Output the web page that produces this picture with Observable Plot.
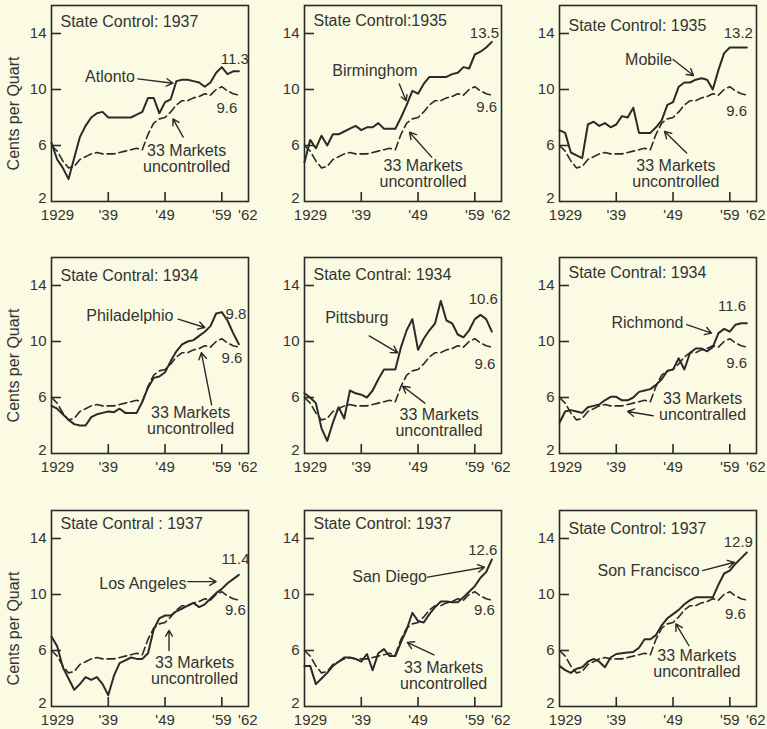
<!DOCTYPE html>
<html><head><meta charset="utf-8">
<script src="https://cdn.jsdelivr.net/npm/d3@7"></script>
<script src="https://cdn.jsdelivr.net/npm/@observablehq/plot@0.6"></script>
<style>
html,body{margin:0;padding:0;background:#fbfbe3;overflow:hidden;}
#chart{position:relative;width:767px;height:729px;background:#fbfbe3;overflow:hidden;}
#chart svg{position:absolute;}
</style></head><body><div id="chart"></div>
<script>
const ink = "#2a2a2a";
const textInk = "#333333";
const years = [1929,1930,1931,1932,1933,1934,1935,1936,1937,1938,1939,1940,1941,1942,1943,1944,1945,1946,1947,1948,1949,1950,1951,1952,1953,1954,1955,1956,1957,1958,1959,1960,1961,1962];
const xTicks = [1929, 1939, 1949, 1959, 1962];
const xTickLabels = ["1929", "'39", "'49", "'59", "'62"];
const yTicks = [2, 6, 10, 14];

// 33 markets uncontrolled (dashed)
const markets33 = [6.0,5.6,4.9,4.4,4.5,5.0,5.2,5.4,5.5,5.4,5.4,5.4,5.5,5.6,5.7,5.8,5.7,6.8,7.6,7.9,8.0,8.4,8.9,9.2,9.2,9.4,9.5,9.7,9.6,10.0,10.2,9.9,9.7,9.6];
// State-controlled cities (solid)
const atlanta = [6.2,5.0,4.4,3.6,5.1,6.6,7.4,8.0,8.3,8.4,8.0,8.0,8.0,8.0,8.0,8.2,8.4,9.4,9.4,8.3,9.1,9.3,10.6,10.7,10.7,10.6,10.5,10.2,10.5,11.2,11.6,11.1,11.3,11.3];
const birmingham = [4.8,6.4,5.8,6.7,6.0,6.8,6.8,7.0,7.2,7.4,7.1,7.3,7.3,7.6,7.2,7.2,7.2,8.0,8.9,9.9,9.7,10.4,10.9,10.9,10.9,10.9,11.1,11.2,11.6,11.5,12.5,12.7,13.0,13.4];
const mobile = [7.1,6.9,5.5,5.3,5.1,7.5,7.7,7.4,7.6,7.3,7.5,8.1,8.0,8.7,6.9,6.9,6.9,7.3,7.8,8.9,9.1,10.2,10.5,10.5,10.7,10.8,10.7,10.0,11.4,12.6,13.0,13.0,13.0,13.0];
const philadelphia = [5.4,5.2,4.8,4.4,4.1,4.0,4.0,4.6,4.8,4.9,5.0,4.95,5.2,4.9,4.9,4.9,5.7,6.7,7.4,7.5,7.8,8.6,9.3,9.8,10.0,10.1,10.4,10.7,11.1,12.0,12.1,11.5,10.6,9.8];
const pittsburgh = [6.3,6.0,5.6,3.8,2.9,4.2,5.3,4.5,6.5,6.3,6.2,6.0,6.5,7.3,8.0,8.0,8.0,9.6,10.8,11.6,9.4,10.2,10.8,11.3,12.9,11.5,11.3,10.5,10.3,10.8,11.6,11.9,11.6,10.7];
const richmond = [4.2,5.0,5.1,5.0,4.9,5.3,5.4,5.5,5.8,6.05,6.05,5.8,5.8,6.0,6.4,6.5,6.6,6.9,7.3,7.9,8.0,8.8,8.0,9.2,9.5,9.5,9.3,9.6,10.6,10.9,10.7,11.2,11.3,11.3];
const losAngeles = [7.0,6.3,4.8,4.0,3.2,3.6,4.1,3.9,4.1,3.6,2.8,4.2,5.1,5.3,5.5,5.4,5.4,5.8,7.5,8.3,8.5,8.5,8.8,9.0,9.2,9.4,9.1,9.3,9.7,10.1,10.4,10.8,11.1,11.4];
const sanDiego = [4.9,4.9,3.6,4.0,4.4,4.9,5.2,5.5,5.5,5.4,5.2,5.75,4.6,5.8,6.1,5.6,5.6,6.6,7.5,8.7,8.1,8.0,8.6,9.1,9.5,9.5,9.45,9.45,9.8,10.2,10.6,11.2,11.6,12.5];
const sanFrancisco = [4.9,4.6,4.4,4.7,4.8,5.2,5.4,5.2,4.8,5.5,5.75,5.8,5.85,5.9,6.2,6.8,6.8,7.1,7.8,8.3,8.6,8.9,9.3,9.6,9.8,9.8,9.8,9.8,10.7,11.5,11.7,12.2,12.6,13.0];

const titles = ["State Control: 1937","State Control:1935","State Control: 1935","State Contral: 1934","State Contral: 1934","State Contral: 1934","State Contral : 1937","State Control: 1937","State Control: 1937"];
const cityNames = ["Atlonto","Birminghom","Mobile","Philadelphio","Pittsburg","Richmond","Los Angeles","San Diego","Son Francisco"];
const cityValues = [atlanta, birmingham, mobile, philadelphia, pittsburgh, richmond, losAngeles, sanDiego, sanFrancisco];
const cityEndLabels = ["11.3","13.5","13.2","9.8","10.6","11.6","11.4","12.6","12.9"];
const marketsEndLabel = "9.6";
const marketsTexts = ["33 Markets\nuncontrolled","33 Markets\nuncontrolled","33 Markets\nuncontrolled","33 Markets\nuncontrolled","33 Markets\nuncontralled","33 Markets\nuncontralled","33 Markets\nuncontrolled","33 Markets\nuncontrolled","33 Markets\nuncontralled"];
const yTitle = "Cents per Quart";

// annotation placement (data coordinates) per panel
const notes = [
  {titleDy:16, city:[1939.3,10.9], cityArrow:[1944.2,10.76,1950.4,10.45], mk:[1952.8,5.07], mkArrow:[1952.2,6.6,1950.4,7.9], end:[1961.3,12.2], base:[1959.9,8.7]},
  {titleDy:15, city:[1941.4,11.36], cityArrow:[1945.7,10.4,1946.9,9.2], mk:[1949.9,3.95], mkArrow:[1951.4,5.17,1947.5,6.95], end:[1960.7,14.0], base:[1961.1,8.74]},
  {titleDy:20, city:[1944.7,12.14], cityArrow:[1949.0,12.14,1952.6,11.0], mk:[1949.5,4.0], mkArrow:[1951.4,5.46,1947.5,7.0], end:[1960.5,14.05], base:[1960.2,8.44]},
  {titleDy:18, city:[1942.8,11.83], cityArrow:[1951.3,11.6,1956.0,11.0], mk:[1953.5,4.3], mkArrow:[1957.2,5.48,1955.4,9.2], end:[1961.5,11.95], base:[1960.8,8.83]},
  {titleDy:17, city:[1938.2,11.7], cityArrow:[1940.4,10.4,1945.4,9.2], mk:[1952.7,4.17], mkArrow:[1950.2,5.6,1946.3,6.8], end:[1960.5,13.0], base:[1960.8,8.36]},
  {titleDy:15, city:[1944.5,11.33], cityArrow:[1951.4,11.2,1955.8,10.6], mk:[1954.2,5.36], mkArrow:[1945.5,4.7,1941.0,5.0], end:[1959.4,12.52], base:[1960.2,8.48]},
  {titleDy:13, city:[1945.1,10.73], cityArrow:[1953.0,10.92,1958.0,10.92], mk:[1954.2,4.57], mkArrow:[1949.7,6.0,1949.7,7.44], end:[1961.4,12.5], base:[1961.4,8.88]},
  {titleDy:13, city:[1944.0,11.24], cityArrow:[1950.7,11.24,1960.7,11.95], mk:[1953.5,4.2], mkArrow:[1951.8,5.68,1947.1,6.58], end:[1960.4,13.15], base:[1960.7,8.85]},
  {titleDy:18, city:[1944.7,11.71], cityArrow:[1954.2,11.71,1959.8,12.3], mk:[1953.2,5.07], mkArrow:[1951.8,6.34,1949.5,7.9], end:[1960.5,13.74], base:[1960.0,8.6]}
];

const colLeft = [6, 259, 514];
const rowTop = [0, 252, 505];
const yTitleDy = [10, 10, 20];
const W = 250, H = 227, ML = 45, MR = 8, MT = 5, MB = 26;
const fw = W - ML - MR, fh = H - MT - MB;
const font = "'Liberation Sans', Arial, sans-serif";
const chart = document.getElementById("chart");

cityValues.forEach((vals, p) => {
  const col = p % 3, row = Math.floor(p / 3);
  const n = notes[p];
  const rows = years.map((yr, i) => ({year: yr, city: vals[i], base: markets33[i]}));
  const lab = d => xTickLabels[xTicks.indexOf(d)];
  const tickStyle = {tickSize: 0, label: null, fontSize: 15, fill: textInk};
  const marks = [
    Plot.frame({stroke: ink, strokeWidth: 1.6}),
    Plot.ruleY(yTicks.slice(1), {y: d => d, insetRight: fw - 10, stroke: ink, strokeWidth: 1.6}),
    Plot.ruleX(xTicks.slice(1, 4), {x: d => d, insetTop: fh - 9, stroke: ink, strokeWidth: 1.6}),
    Plot.axisY(yTicks.slice(0, 1), {...tickStyle, tickPadding: 5, dy: -3}),
    Plot.axisY(yTicks.slice(1), {...tickStyle, tickPadding: 5}),
    Plot.axisX(xTicks.slice(0, 1), {...tickStyle, tickPadding: 8, tickFormat: lab, dx: 6}),
    Plot.axisX(xTicks.slice(1, 4), {...tickStyle, tickPadding: 8, tickFormat: lab}),
    Plot.axisX(xTicks.slice(4), {...tickStyle, tickPadding: 8, tickFormat: lab, dx: 9}),
    Plot.line(rows, {x: "year", y: "base", stroke: ink, strokeWidth: 1.6, strokeDasharray: "8,4"}),
    Plot.line(rows, {x: "year", y: "city", stroke: ink, strokeWidth: 2, strokeLinejoin: "round"}),
    Plot.text([titles[p]], {frameAnchor: "top-left", dx: 9, dy: n.titleDy, textAnchor: "start", lineAnchor: "middle", fontSize: 16, fill: textInk}),
    Plot.text([n], {x: d => d.city[0], y: d => d.city[1], text: () => cityNames[p], fontSize: 16, fill: textInk}),
    Plot.arrow([n], {x1: d => d.cityArrow[0], y1: d => d.cityArrow[1], x2: d => d.cityArrow[2], y2: d => d.cityArrow[3], stroke: ink, strokeWidth: 1.4, headLength: 8}),
    Plot.text([n], {x: d => d.mk[0], y: d => d.mk[1], text: () => marketsTexts[p], fontSize: 16, lineHeight: 1.0, fill: textInk}),
    Plot.arrow([n], {x1: d => d.mkArrow[0], y1: d => d.mkArrow[1], x2: d => d.mkArrow[2], y2: d => d.mkArrow[3], stroke: ink, strokeWidth: 1.4, headLength: 8}),
    Plot.text([n], {x: d => d.end[0], y: d => d.end[1], text: () => cityEndLabels[p], fontSize: 15, fill: textInk}),
    Plot.text([n], {x: d => d.base[0], y: d => d.base[1], text: () => marketsEndLabel, fontSize: 15, fill: textInk})
  ];
  if (col === 0) {
    marks.push(Plot.text([yTitle], {frameAnchor: "left", textAnchor: "middle", lineAnchor: "middle", dx: -38, dy: yTitleDy[row], rotate: -90, fontSize: 16, letterSpacing: 0.6, fill: textInk}));
  }
  const svg = Plot.plot({
    width: W, height: H, marginLeft: ML, marginRight: MR, marginTop: MT, marginBottom: MB,
    style: {background: "transparent", fontFamily: font, fontSize: "15px", color: textInk, overflow: "visible"},
    x: {domain: [1929, 1963.7]},
    y: {domain: [2, 16]},
    marks
  });
  svg.style.left = colLeft[col] + "px";
  svg.style.top = rowTop[row] + "px";
  chart.appendChild(svg);
});
</script>
</body></html>
